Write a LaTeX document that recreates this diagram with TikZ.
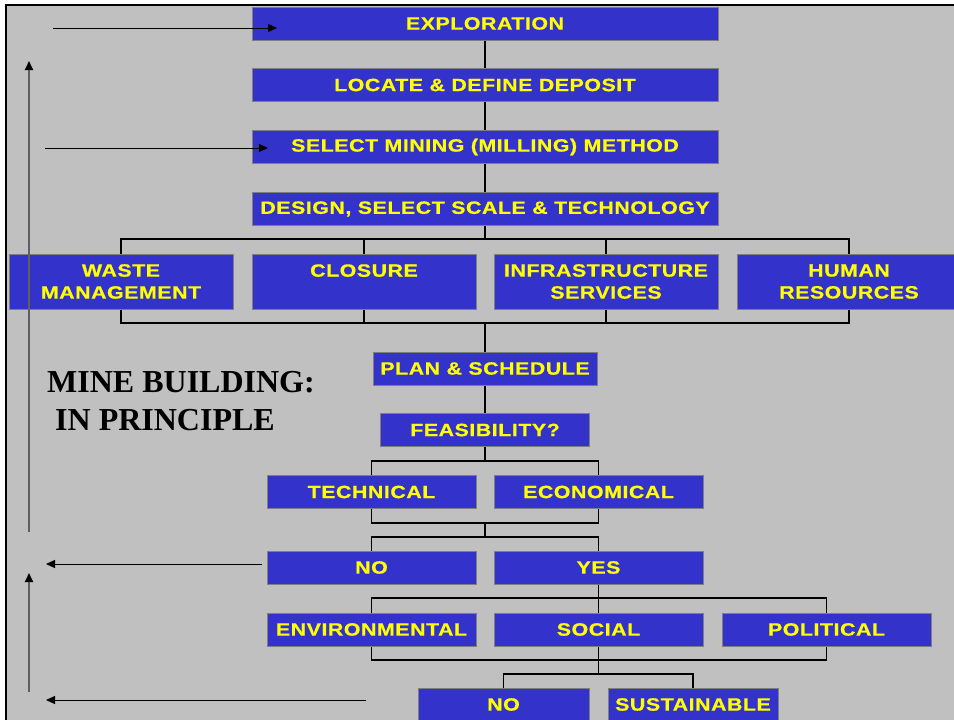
\documentclass[tikz,border=0pt]{standalone}
\usepackage{fontspec}
\setmainfont{Liberation Serif}
\newfontfamily\boxfont{Liberation Sans Bold}[FakeStretch=1.2, LetterSpace=3, FakeBold=0.6]
\usetikzlibrary{arrows.meta,calc}
\definecolor{panel}{HTML}{C0C0C0}
\definecolor{boxblue}{HTML}{3333CC}
\definecolor{boxedge}{HTML}{7F7F7F}
\definecolor{boxtext}{HTML}{FFFF00}
\definecolor{rail}{HTML}{5F5F5F}

\begin{document}
\begin{tikzpicture}[x=1pt,y=-1pt,
  stage/.style={draw=boxedge, line width=1pt, fill=boxblue, text=boxtext,
    inner sep=0pt, align=center, minimum height=33pt,
    font=\boxfont\fontsize{17.8}{22}\selectfont},
  wide/.style={stage, minimum width=466pt},
  tall/.style={stage, minimum width=224pt, minimum height=55pt},
  mid/.style={stage, minimum width=209pt},
  link/.style={draw=black, line width=1.5pt},
  pointer/.style={draw=black, line width=1pt, -{Triangle[length=9pt,width=8pt]}},
  backrail/.style={draw=rail, line width=1.8pt, -{Triangle[length=9pt,width=8pt,fill=black,color=black]}},
  heading/.style={anchor=base west, inner sep=0pt, font=\bfseries\fontsize{32}{38}\selectfont}
]
\clip (0,0) rectangle (954,720);

% panel and its frame
\fill[panel] (6,5) rectangle (970,730);
\draw[black, line width=2pt] (6,730) -- (6,5) -- (970,5);

% main chain
\node[wide] (expl)   at (485,23.5) {EXPLORATION};
\node[wide] (locate) at (485,85)   {LOCATE \& DEFINE DEPOSIT};
\node[wide] (method) at (485,147)  {SELECT MINING (MILLING) METHOD};
\node[wide] (design) at (485,209)  {DESIGN, SELECT SCALE \& TECHNOLOGY};

% design components
\node[tall] (waste)   at (121,281.5) {WASTE\\MANAGEMENT};
\node[tall] (closure) at (364,281.5) {CLOSURE\\\mbox{}};
\node[tall] (infra)   at (606,281.5) {INFRASTRUCTURE\\SERVICES};
\node[tall] (human)   at (849,281.5) {HUMAN\\RESOURCES};

\node[stage, minimum width=224pt] (plan) at (485,368.5) {PLAN \& SCHEDULE};
\node[mid] (feas) at (485,430) {FEASIBILITY?};

\node[mid] (tech) at (371.5,492) {TECHNICAL};
\node[mid] (econ) at (598.5,492) {ECONOMICAL};

\node[mid] (no1) at (371.5,567.5) {NO};
\node[mid] (yes) at (598.5,567.5) {YES};

\node[mid] (env)    at (371.5,629.5) {ENVIRONMENTAL};
\node[mid] (social) at (598.5,629.5) {SOCIAL};
\node[mid] (pol)    at (826.5,629.5) {POLITICAL};

\node[stage, minimum width=171pt] (no2)  at (503.5,704.5) {NO};
\node[stage, minimum width=170pt] (sust) at (693,704.5)   {SUSTAINABLE};

% title
\node[heading] (title1) at (47,392) {MINE BUILDING:};
\node[heading] (title2) at (47,430) {\ IN PRINCIPLE};

% bracket junctions
\coordinate (b1) at (485,239);
\coordinate (b2) at (485,323);
\coordinate (b3) at (485,461);
\coordinate (b4) at (485,523);
\coordinate (b5) at (485,537);
\coordinate (b6) at (598.5,598);
\coordinate (b7) at (598.5,660);
\coordinate (b8) at (598.5,674);

% connectors
\draw[link] (expl) -- (locate);
\draw[link] (locate) -- (method);
\draw[link] (method) -- (design);
\draw[link] (design.south) -- (b1);
\draw[link] (waste.north) -- (waste.north|-b1) -- (human.north|-b1) -- (human.north);
\draw[link] (closure.north) -- (closure.north|-b1);
\draw[link] (infra.north) -- (infra.north|-b1);
\draw[link] (waste.south) -- (waste.south|-b2) -- (human.south|-b2) -- (human.south);
\draw[link] (closure.south) -- (closure.south|-b2);
\draw[link] (infra.south) -- (infra.south|-b2);
\draw[link] (b2) -- (plan.north);
\draw[link] (plan) -- (feas);
\draw[link] (feas.south) -- (b3);
\draw[link] (tech.north) -- (tech.north|-b3) -- (econ.north|-b3) -- (econ.north);
\draw[link] (tech.south) -- (tech.south|-b4) -- (econ.south|-b4) -- (econ.south);
\draw[link] (b4) -- (b5);
\draw[link] (no1.north) -- (no1.north|-b5) -- (yes.north|-b5) -- (yes.north);
\draw[link] (yes.south) -- (b6);
\draw[link] (env.north) -- (env.north|-b6) -- (pol.north|-b6) -- (pol.north);
\draw[link] (b6) -- (social.north);
\draw[link] (env.south) -- (env.south|-b7) -- (pol.south|-b7) -- (pol.south);
\draw[link] (social.south) -- (b7);
\draw[link] (b7) -- (b8);
\draw[link] (no2.north) -- (no2.north|-b8) -- (sust.north|-b8) -- (sust.north);

% feedback arrows
\coordinate (r1s) at (29,532);
\coordinate (r1e) at (29,61);
\coordinate (r2s) at (29,692);
\coordinate (r2e) at (29,573);
\coordinate (p1s) at (53,28);
\coordinate (p1e) at (277,28);
\coordinate (p2s) at (45,148);
\coordinate (p2e) at (268,148);
\coordinate (p3s) at (262,564);
\coordinate (p3e) at (46,564);
\coordinate (p4s) at (366,700);
\coordinate (p4e) at (46,700);

\draw[backrail] (r1s) -- (r1e);
\draw[backrail] (r2s) -- (r2e);
\draw[pointer] (p1s) -- (p1e);
\draw[pointer] (p2s) -- (p2e);
\draw[pointer] (p3s) -- (p3e);
\draw[pointer] (p4s) -- (p4e);
\end{tikzpicture}
\end{document}
